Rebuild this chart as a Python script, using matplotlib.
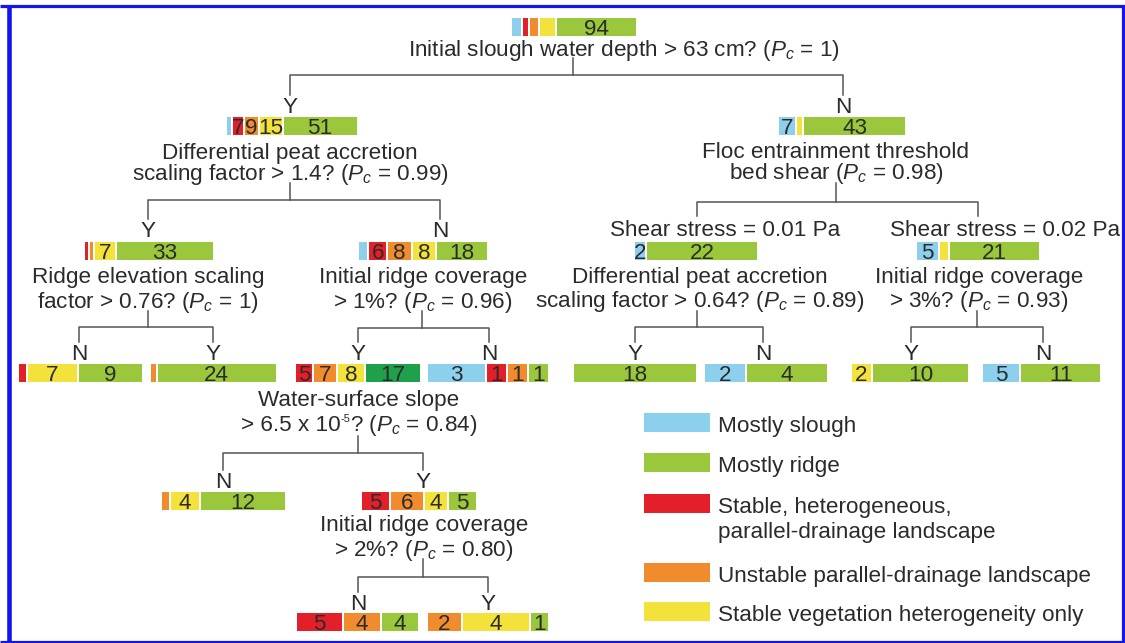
import matplotlib
matplotlib.use('Agg')
import matplotlib.pyplot as plt
from matplotlib.patches import Rectangle

plt.rcParams['font.family'] = ['Liberation Sans', 'DejaVu Sans']
plt.rcParams['mathtext.fontset'] = 'custom'
plt.rcParams['mathtext.rm'] = 'Liberation Sans'
plt.rcParams['mathtext.it'] = 'Liberation Sans:italic'

# classes, in the order they are stacked in every bar
class_names = ['Mostly slough',
               'Stable, heterogeneous,\nparallel-drainage landscape',
               'Unstable parallel-drainage landscape',
               'Stable vegetation heterogeneity only',
               'Mostly ridge']
class_colors = ['#8dd0ee', '#e3202a', '#f08c2e', '#f4e23c', '#9ac73c']
legend_order = [0, 4, 1, 2, 3]

# counts per node: slough, stable het., unstable, stable veg., ridge
root = [10, 7, 9, 17, 94]
deep = [3, 7, 9, 15, 51]
shallow = [7, 0, 0, 2, 43]
accr_hi = [0, 1, 1, 7, 33]
accr_lo = [3, 6, 8, 8, 18]
shear1 = [2, 0, 0, 0, 22]
shear2 = [5, 0, 0, 2, 21]
elev_n = [0, 1, 0, 7, 9]
elev_y = [0, 0, 1, 0, 24]
cov1_y = [0, 5, 7, 8, 17]
cov1_n = [3, 1, 1, 0, 1]
acc2_y = [0, 0, 0, 0, 18]
acc2_n = [2, 0, 0, 0, 4]
cov3_y = [0, 0, 0, 2, 10]
cov3_n = [5, 0, 0, 0, 11]
slope_n = [0, 0, 1, 4, 12]
slope_y = [0, 5, 6, 4, 5]
cov2_n = [0, 5, 4, 0, 4]
cov2_y = [0, 0, 2, 4, 1]

# questions at the split nodes
q_root = ['Initial slough water depth > 63 cm? ($P_c$ = 1)']
q_deep = ['Differential peat accretion', 'scaling factor > 1.4? ($P_c$ = 0.99)']
q_shallow = ['Floc entrainment threshold', 'bed shear ($P_c$ = 0.98)']
q_accr_hi = ['Ridge elevation scaling', 'factor > 0.76? ($P_c$ = 1)']
q_accr_lo = ['Initial ridge coverage', '> 1%? ($P_c$ = 0.96)']
q_shear1 = ['Differential peat accretion', 'scaling factor > 0.64? ($P_c$ = 0.89)']
q_shear2 = ['Initial ridge coverage', '> 3%? ($P_c$ = 0.93)']
q_slope = ['Water-surface slope', ['> 6.5 x 10', '-5', '? ($P_c$ = 0.84)']]
q_cov2 = ['Initial ridge coverage', '> 2%? ($P_c$ = 0.80)']

TXT = '#2b2b2b'
LINE = '#555555'
FS = 16.2

fig = plt.figure(figsize=(11.25, 6.43), dpi=100)
ax = fig.add_axes([0, 0, 1, 1])
ax.set_xlim(0, 1125)
ax.set_ylim(643, 0)
ax.axis('off')
rend = fig.canvas.get_renderer()


def txt(x, y, s, **kw):
    # y is the visual middle of the capitals
    return ax.text(x, y + 8, s, ha=kw.pop('ha', 'center'), va='baseline',
                   fontsize=kw.pop('fontsize', FS), color=TXT, **kw)


def txt_sup(x, y, parts):
    # base text, small raised exponent, base text; centred on x as a whole
    a = txt(0, y, parts[0], ha='left')
    b = txt(0, y - 9, parts[1], ha='left', fontsize=8)
    c = txt(0, y, parts[2], ha='left')
    ws = [t.get_window_extent(rend).width for t in (a, b, c)]
    x0 = x - sum(ws) / 2
    for t, w in zip((a, b, c), ws):
        t.set_x(x0)
        x0 += w


def bar(counts, x0, y, scale, min_lab=9, only_max=False, dark=False):
    x = x0
    big = max(counts)
    for i, c in enumerate(counts):
        if c == 0:
            continue
        w = c * scale
        col = class_colors[i]
        if dark and i == 4:
            col = '#1fa04b'
        ax.barh(y, w, left=x, height=18, color=col, linewidth=0)
        show = (c == big) if only_max else (w >= min_lab)
        if show:
            txt(x + w / 2, y, str(c))
        x += w + 2


def branch(xp, y0, y1, xl, xr, y2, labs=('Y', 'N')):
    ax.plot([xp, xp], [y0, y1], color=LINE, lw=1.1)
    ax.plot([xl, xl, xr, xr], [y2, y1, y1, y2], color=LINE, lw=1.1)
    if labs:
        txt(xl, y2 + 10, labs[0])
        txt(xr, y2 + 10, labs[1])


# root
bar(root, 512, 27, 0.85, only_max=True)
txt(624, 48, q_root[0])
branch(573, 58, 75, 290, 843, 95)

# level 1
bar(deep, 227, 126, 1.43)
txt(290, 151, q_deep[0])
txt(290, 172, q_deep[1])
branch(290, 183, 200, 148, 440, 219)

bar(shallow, 779, 126, 2.35)
txt(836, 150, q_shallow[0])
txt(836, 171, q_shallow[1])
branch(836, 183, 202, 697, 978, 216, labs=None)
txt(725, 228, 'Shear stress = 0.01 Pa')
txt(1005, 228, 'Shear stress = 0.02 Pa')

# level 2
bar(accr_hi, 85, 251, 2.9)
txt(148, 275, q_accr_hi[0])
txt(148, 300, q_accr_hi[1])
branch(148, 311, 327, 79, 213, 342, labs=('N', 'Y'))

bar(accr_lo, 359, 251, 2.8)
txt(423, 275, q_accr_lo[0])
txt(423, 300, q_accr_lo[1])
branch(422, 311, 328, 358, 489, 342)

bar(shear1, 635, 251, 5.0)
txt(700, 275, q_shear1[0])
txt(700, 299, q_shear1[1])
branch(697, 311, 327, 635, 763, 342)

bar(shear2, 917, 251, 4.2)
txt(979, 275, q_shear2[0])
txt(979, 299, q_shear2[1])
branch(977, 311, 327, 911, 1043, 342)

# level 3
bar(elev_n, 19, 373, 7.0)
bar(elev_y, 151, 373, 4.9)
bar(cov1_y, 296, 373, 3.2, dark=True)
bar(cov1_n, 428, 373, 19.0)
bar(acc2_y, 574, 373, 6.8)
bar(acc2_n, 705, 373, 20.0)
bar(cov3_y, 852, 373, 9.5)
bar(cov3_n, 983, 373, 7.2)

txt(359, 398, q_slope[0])
txt_sup(359, 423, q_slope[1])
branch(358, 436, 453, 223, 423, 470, labs=('N', 'Y'))

bar(slope_n, 162, 501, 7.0)
bar(slope_y, 362, 501, 5.4)
txt(424, 523, q_cov2[0])
txt(424, 548, q_cov2[1])
branch(423, 559, 577, 358, 488, 592, labs=('N', 'Y'))

bar(cov2_n, 297, 622, 9.0)
bar(cov2_y, 428, 622, 16.5)

# legend
leg_y = [422, 462, 503, 572, 611]
for k, i in enumerate(legend_order):
    ax.add_patch(Rectangle((644, leg_y[k] - 9.5), 66, 19, color=class_colors[i], lw=0))
    lines = class_names[i].split('\n')
    for j, s in enumerate(lines):
        txt(718, leg_y[k] + 2 + j * 25, s, ha='left')

# blue frame
BL = '#1414f0'
ax.plot([0, 1125], [5.5, 5.5], color=BL, lw=2.3, solid_capstyle='butt')
ax.plot([9, 9], [5.5, 643], color=BL, lw=3.3, solid_capstyle='butt')
ax.plot([0, 1125], [641.5, 641.5], color=BL, lw=2.3, solid_capstyle='butt')
ax.plot([1122.5, 1122.5], [5.5, 643], color=BL, lw=2.3, solid_capstyle='butt')

fig.savefig('out.png', dpi=100)
